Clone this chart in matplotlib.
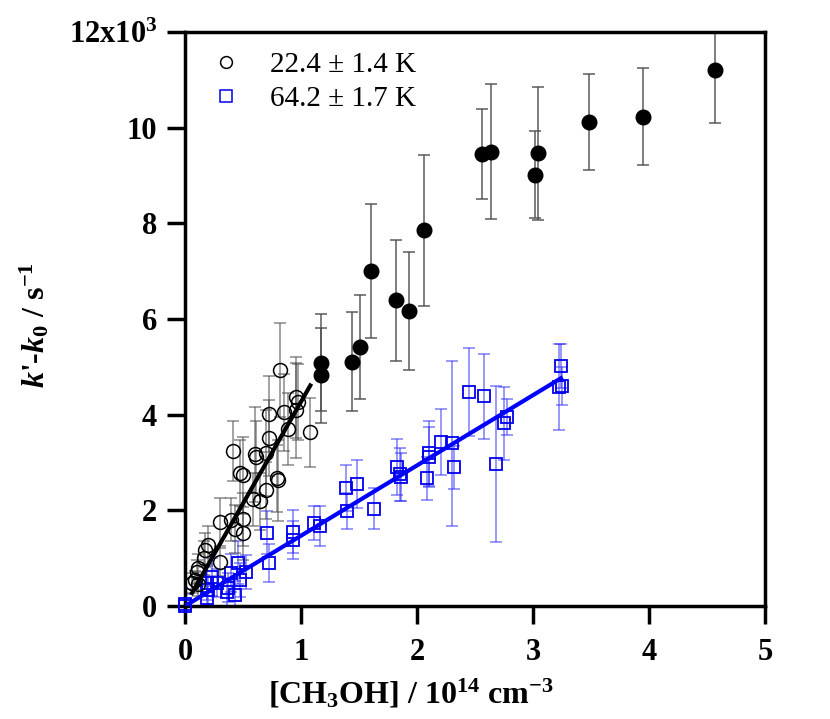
import numpy as np
import matplotlib
matplotlib.use('Agg')
import matplotlib.pyplot as plt
from matplotlib.lines import Line2D

plt.rcParams['font.family'] = ['Liberation Serif', 'DejaVu Serif']
plt.rcParams['mathtext.fontset'] = 'custom'
plt.rcParams['mathtext.rm'] = 'Liberation Serif:bold'
plt.rcParams['mathtext.bf'] = 'Liberation Serif:bold'
plt.rcParams['mathtext.it'] = 'Liberation Serif:italic:bold'

# 22.4 K, open circles (fitted low-concentration part), k' - k0 in 10^3 s^-1
low_x = [0.82, 0.96, 0.97, 0.72, 0.85, 0.96, 0.89, 1.08, 0.72, 0.41, 0.60, 0.61,
         0.70, 0.47, 0.50, 0.70, 0.79, 0.80, 0.59, 0.65, 0.30, 0.40, 0.50, 0.43,
         0.50, 0.20, 0.17, 0.16, 0.30, 0.11, 0.10, 0.09, 0.06, 0.11]
low_y = [4.93, 4.36, 4.26, 4.01, 4.05, 4.09, 3.70, 3.63, 3.51, 3.24, 3.17, 3.11,
         3.19, 2.78, 2.73, 2.42, 2.67, 2.63, 2.23, 2.19, 1.75, 1.80, 1.81, 1.61,
         1.52, 1.27, 1.17, 1.00, 0.92, 0.79, 0.71, 0.54, 0.48, 0.46]
low_err = [0.98, 0.85, 0.80, 0.80, 0.80, 1.00, 0.75, 0.72, 0.80, 0.63, 1.00, 0.75,
           0.90, 0.70, 0.80, 0.60, 0.70, 0.85, 0.55, 0.60, 0.50, 0.45, 0.55, 0.50,
           0.55, 0.40, 0.35, 0.35, 0.30, 0.30, 0.25, 0.20, 0.20, 0.25]

# 22.4 K, filled circles (not fitted)
high_x = [1.17, 1.17, 1.44, 1.51, 1.60, 1.82, 1.93, 2.06, 2.56, 2.64, 3.02, 3.04,
          3.48, 3.95, 4.57]
high_y = [5.09, 4.82, 5.11, 5.41, 7.01, 6.39, 6.16, 7.85, 9.44, 9.50, 9.02, 9.46,
          10.12, 10.23, 11.21]
high_err = [1.02, 1.00, 1.03, 1.09, 1.40, 1.27, 1.23, 1.57, 0.94, 1.42, 0.90, 1.40,
            1.00, 1.02, 1.12]

# 64.2 K, open squares
sq_x = [0.00, 0.00, 0.19, 0.20, 0.19, 0.23, 0.28, 0.36, 0.37, 0.43, 0.40, 0.46,
        0.47, 0.53, 0.71, 0.72, 0.93, 0.93, 1.11, 1.16, 1.39, 1.48, 1.40, 1.63,
        1.83, 1.85, 1.86, 2.10, 2.10, 2.09, 2.21, 2.30, 2.32, 2.45, 2.58, 2.68,
        2.75, 2.78, 3.24, 3.22, 3.25]
sq_y = [0.00, 0.05, 0.17, 0.33, 0.48, 0.61, 0.48, 0.29, 0.38, 0.23, 0.69, 0.90,
        0.54, 0.71, 1.53, 0.90, 1.55, 1.38, 1.73, 1.67, 2.46, 2.55, 1.98, 2.03,
        2.90, 2.75, 2.69, 3.19, 3.11, 2.67, 3.42, 3.40, 2.90, 4.47, 4.38, 2.96,
        3.82, 3.95, 5.01, 4.57, 4.60]
sq_err = [0.25, 0.30, 0.25, 0.30, 0.35, 0.40, 0.30, 0.30, 0.30, 0.30, 0.40, 0.45,
          0.35, 0.35, 0.45, 0.40, 0.45, 0.40, 0.35, 0.42, 0.48, 0.50, 0.38, 0.43,
          0.59, 0.55, 0.50, 0.68, 0.63, 0.45, 0.69, 1.73, 0.45, 0.92, 0.88, 1.63,
          0.76, 0.38, 0.46, 0.90, 0.40]

# linear fits (end points)
fit_low_x = [0.06, 1.08]
fit_low_y = [0.27, 4.61]
fit_sq_x = [0.00, 3.24]
fit_sq_y = [0.00, 4.76]

legend_labels = ['22.4 \u00b1 1.4 K', '64.2 \u00b1 1.7 K']
yticks = [0, 2, 4, 6, 8, 10, 12]
ytick_labels = ['0', '2', '4', '6', '8', '10', r'12x10$^{3}$']

fig = plt.figure(figsize=(8.3, 7.19), dpi=100)
ax = fig.add_axes([0.2229, 0.1572, 0.6988, 0.7983])

ax.errorbar(sq_x, sq_y, yerr=sq_err, fmt='none', ecolor=(0.15, 0.15, 1.0, 0.55),
            elinewidth=1.2, capsize=4, capthick=1.2, zorder=2)
ax.errorbar(low_x, low_y, yerr=low_err, fmt='none', ecolor=(0.3, 0.3, 0.3, 0.6),
            elinewidth=1.2, capsize=4, capthick=1.2, zorder=2)
ax.errorbar(high_x, high_y, yerr=high_err, fmt='none', ecolor=(0.3, 0.3, 0.3, 0.85),
            elinewidth=1.2, capsize=4, capthick=1.2, zorder=2)

ax.plot(sq_x, sq_y, 's', ms=8.5, mfc='none', mec='#0000ee', mew=1.3, zorder=3, clip_on=False)
ax.plot(low_x, low_y, 'o', ms=10, mfc='none', mec='black', mew=1.1, zorder=3)
ax.plot(high_x, high_y, 'o', ms=10.5, mfc='black', mec='black', zorder=3)

ax.plot(fit_low_x, fit_low_y, '-', color='black', lw=3, zorder=4)
ax.plot(fit_sq_x, fit_sq_y, '-', color='#0000ff', lw=3, zorder=4)

ax.set_xlim(0, 5)
ax.set_ylim(0, 12)
ax.set_xticks([0, 1, 2, 3, 4, 5])
ax.set_yticks(yticks)
ax.set_yticklabels(ytick_labels)

for s in ax.spines.values():
    s.set_linewidth(2.5)
ax.tick_params(direction='out', length=13, width=2.5, labelsize=22)
ax.tick_params(axis='y', pad=7)
ax.tick_params(axis='x', pad=10)
for lab in ax.get_xticklabels() + ax.get_yticklabels():
    lab.set_fontweight('bold')

ax.set_xlabel(r'[CH$_{3}$OH] / 10$^{14}$ cm$^{-3}$', fontsize=23, fontweight='bold')
ax.xaxis.set_label_coords(0.39, -0.125)
ax.set_ylabel(r"$k$'-$k_{0}$ / s$^{-1}$", fontsize=23, fontweight='bold')
ax.yaxis.set_label_coords(-0.23, 0.49)

handles = [Line2D([], [], ls='none', marker='o', ms=8.5, mfc='none', mec='black', mew=1.1),
           Line2D([], [], ls='none', marker='s', ms=8, mfc='none', mec='#0000ee', mew=1.1)]
ax.legend(handles, legend_labels, loc='upper left', bbox_to_anchor=(0.0, 1.012),
          frameon=False, fontsize=21, handlelength=1.0, handletextpad=1.0,
          labelspacing=0.28)

fig.savefig('out.png', dpi=100)
